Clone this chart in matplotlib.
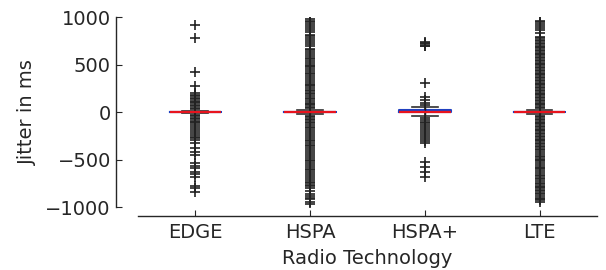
import matplotlib
matplotlib.use('Agg')
import matplotlib.pyplot as plt

# radio technologies on the x axis
techs = ['EDGE', 'HSPA', 'HSPA+', 'LTE']

# box statistics per technology (ms)
medians = [0, 0, 0, 0]
q1s = [-2, -2, -2, -2]
q3s = [2, 2, 20, 2]
whisk_lo = [-15, -20, -40, -20]
whisk_hi = [15, 20, 50, 20]

# outliers (ms)
fliers_edge = [920, 780, 420, 275, 195, 180, 165, 150, 135, 120, 105, 90, 75, 60,
               45, 30, -30, -45, -60, -75, -90, -105, -120, -140, -160, -180,
               -200, -220, -240, -260, -275, -295, -327, -379, -421, -453, -537,
               -568, -590, -632, -653, -684, -779, -800, -842]
fliers_hspa = [975, 960, 945, 925, 905, 885, 860, 840, 815, 800, 780, 760, 735,
               715, 690, 665, 650, 630, 610, 590, 570, 555, 540, 520, 500, 485,
               470, 450, 430, 410, 395, 380, 360, 340, 320, 300, 285, 270, 250,
               235, 220, 200, 185, 170, 150, 135, 120, 100, 85, 70, 55, 40,
               -40, -55, -70, -85, -100, -120, -140, -155, -170, -190, -210,
               -230, -250, -270, -290, -310, -330, -345, -360, -380, -400, -420,
               -440, -460, -480, -500, -520, -540, -560, -580, -600, -615, -630,
               -650, -670, -690, -715, -735, -750, -765, -780, -800, -830, -860,
               -880, -900, -920, -945, -965]
fliers_hspap = [740, 725, 715, 700, 690, 310, 160, 125, 90, 70, -60, -80, -100,
                -120, -140, -160, -180, -200, -220, -240, -260, -280, -300, -330,
                -526, -579, -632, -684]
fliers_lte = [960, 945, 925, 905, 880, 860, 835, 790, 775, 760, 745, 730, 715,
              700, 685, 670, 655, 640, 625, 610, 595, 580, 565, 550, 535, 520,
              505, 490, 475, 460, 445, 430, 415, 400, 385, 370, 355, 340, 325,
              310, 295, 280, 265, 250, 235, 220, 205, 190, 175, 160, 145, 130,
              115, 100, 85, 70, 55, 40, -40, -55, -70, -85, -100, -115, -130,
              -145, -160, -175, -190, -205, -220, -235, -250, -265, -280, -295,
              -310, -325, -340, -355, -370, -385, -400, -420, -440, -460, -475,
              -490, -505, -520, -540, -560, -575, -590, -605, -620, -640, -660,
              -675, -690, -710, -730, -745, -760, -775, -790, -805, -820, -835,
              -850, -865, -880, -900, -915, -930, -945]
fliers = [fliers_edge, fliers_hspa, fliers_hspap, fliers_lte]

stats = []
for i, name in enumerate(techs):
    stats.append(dict(label=name, med=medians[i], q1=q1s[i], q3=q3s[i],
                      whislo=whisk_lo[i], whishi=whisk_hi[i], fliers=fliers[i]))

plt.rcParams['font.family'] = 'DejaVu Sans'
plt.rcParams['font.size'] = 14
dark = '#262626'

fig = plt.figure(figsize=(6.06, 2.70), dpi=100)
ax = fig.add_axes([0.2277, 0.2333, 0.7573, 0.7037])

ax.bxp(stats, positions=[1, 2, 3, 4], widths=0.45,
       boxprops=dict(color='#2040c0', linewidth=1.5),
       medianprops=dict(color='#e8141e', linewidth=1.6),
       whiskerprops=dict(color='k', linestyle='--', linewidth=1.0),
       capprops=dict(color='#303030', linewidth=1.2),
       flierprops=dict(marker='+', markersize=7.5, markeredgewidth=1.2,
                       markeredgecolor='#222222', linestyle='none'))

ax.set_xlim(0.5, 4.5)
ax.set_ylim(-1000, 1000)
ax.set_yticks([-1000, -500, 0, 500, 1000])
ax.set_xticks([1, 2, 3, 4])
ax.set_xticklabels(techs)

for side in ['top', 'right']:
    ax.spines[side].set_visible(False)
ax.spines['left'].set_position(('outward', 16))
ax.spines['bottom'].set_position(('outward', 6.5))
for side in ['left', 'bottom']:
    ax.spines[side].set_color(dark)
    ax.spines[side].set_linewidth(1.0)

ax.tick_params(direction='in', colors=dark, labelsize=14, length=4)
ax.tick_params(axis='x', pad=5)
ax.set_xlabel('Radio Technology', color=dark, fontsize=14, labelpad=5)
ax.set_ylabel('Jitter in ms', color=dark, fontsize=14, labelpad=6)

fig.savefig('out.png', dpi=100)
